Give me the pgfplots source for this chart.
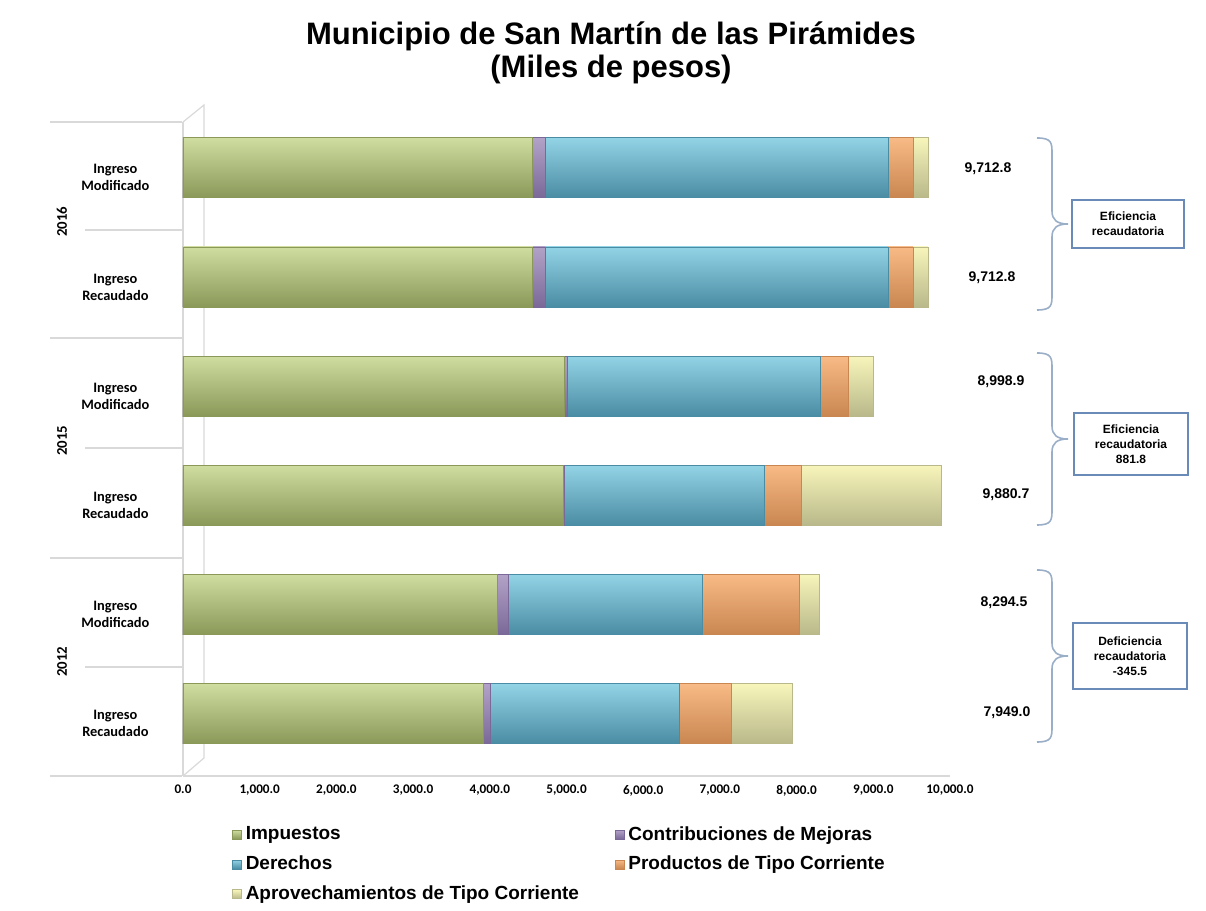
\documentclass[border=0pt]{standalone}
\usepackage{fontspec}
\setmainfont{Liberation Sans}
\newfontfamily\calib{Carlito}
\usepackage{pgfplots}
\usepackage{pgfplotstable}
\pgfplotsset{compat=1.18}

\definecolor{greenL}{HTML}{E6F0BD}\definecolor{greenM}{HTML}{CFDDA0}\definecolor{greenD}{HTML}{8A9858}
\definecolor{purpleL}{HTML}{D2C5E4}\definecolor{purpleM}{HTML}{B3A2C7}\definecolor{purpleD}{HTML}{7A6898}
\definecolor{blueL}{HTML}{B4EAF8}\definecolor{blueM}{HTML}{93D3E6}\definecolor{blueD}{HTML}{4A8CA3}
\definecolor{orangeL}{HTML}{FDD6AE}\definecolor{orangeM}{HTML}{F8BA86}\definecolor{orangeD}{HTML}{C98650}
\definecolor{creamL}{HTML}{FFFFD8}\definecolor{creamM}{HTML}{F7F5BA}\definecolor{creamD}{HTML}{B8B88A}
\definecolor{gridc}{HTML}{D9D9D9}
\definecolor{bracec}{HTML}{9AAEC8}
\definecolor{boxc}{HTML}{6A8AB8}

\pgfplotsset{
  sImp/.style={fill=greenM, top color=greenM, middle color=greenL, bottom color=greenD, draw=greenD, line width=0.3pt},
  sCon/.style={fill=purpleM, top color=purpleM, middle color=purpleL, bottom color=purpleD, draw=purpleD, line width=0.3pt},
  sDer/.style={fill=blueM, top color=blueM, middle color=blueL, bottom color=blueD, draw=blueD, line width=0.3pt},
  sPro/.style={fill=orangeM, top color=orangeM, middle color=orangeL, bottom color=orangeD, draw=orangeD, line width=0.3pt},
  sApr/.style={fill=creamM, top color=creamM, middle color=creamL, bottom color=creamD, draw=creamD, line width=0.3pt},
}

% y: 0 = 2016 Ingreso Modificado (top) ... 5 = 2012 Ingreso Recaudado (bottom)
% imp = Impuestos, con = Contribuciones de Mejoras, der = Derechos,
% pro = Productos de Tipo Corriente, apr = Aprovechamientos de Tipo Corriente
\pgfplotstableread{
y imp con der pro apr
0 4560 165 4465 325 197.8
1 4560 165 4465 325 197.8
2 4975 40 3300 365 318.9
3 4960 15 2610 470 1825.7
4 4100 145 2530 1255 264.5
5 3915 90 2470 670 804
}\datatab

% one category: each segment drawn on its own (own cylinder shading),
% back to front, each reaching the running total of the stack
\newcommand\catbars[2]{%
  \addplot[sApr, bar shift=0pt, forget plot, restrict y to domain=#1:#2]
    table[y=y, x expr=\thisrow{imp}+\thisrow{con}+\thisrow{der}+\thisrow{pro}+\thisrow{apr}]{\datatab};
  \addplot[sPro, bar shift=0pt, forget plot, restrict y to domain=#1:#2]
    table[y=y, x expr=\thisrow{imp}+\thisrow{con}+\thisrow{der}+\thisrow{pro}]{\datatab};
  \addplot[sDer, bar shift=0pt, forget plot, restrict y to domain=#1:#2]
    table[y=y, x expr=\thisrow{imp}+\thisrow{con}+\thisrow{der}]{\datatab};
  \addplot[sCon, bar shift=0pt, forget plot, restrict y to domain=#1:#2]
    table[y=y, x expr=\thisrow{imp}+\thisrow{con}]{\datatab};
  \addplot[sImp, bar shift=0pt, forget plot, restrict y to domain=#1:#2]
    table[y=y, x=imp]{\datatab};
}

\begin{document}
\begin{tikzpicture}
% background: bounding box, separators and back wall (behind the bars)
\begin{scope}[x=0.5pt, y=-0.5pt, yshift=453pt]
  \path[use as bounding box] (0,0) rectangle (1206,906);
  \draw[gridc, line width=0.6pt] (50,122) -- (182,122);
  \draw[gridc, line width=0.6pt] (85,230) -- (182,230);
  \draw[gridc, line width=0.6pt] (50,338) -- (182,338);
  \draw[gridc, line width=0.6pt] (85,448) -- (182,448);
  \draw[gridc, line width=0.6pt] (50,558) -- (182,558);
  \draw[gridc, line width=0.6pt] (85,667) -- (182,667);
  \draw[gridc, line width=0.6pt] (50,776) -- (182,776);
  \draw[gridc, line width=0.6pt] (183,122) -- (204,105) -- (204,758) -- (183,776);
\end{scope}

\begin{axis}[
  at={(91.5pt,65pt)}, anchor=south west,
  scale only axis, width=383.5pt, height=327.05pt,
  xbar, bar width=30pt,
  xmin=0, xmax=10000, ymin=-0.42, ymax=5.57, y dir=reverse,
  enlargelimits=false, clip=false,
  axis x line*=bottom, axis y line*=left,
  axis line style={gridc, line width=0.7pt, -},
  xtick={0,1000,...,10000},
  scaled x ticks=false,
  xticklabel style={font=\calib\bfseries\fontsize{6.6}{7}\selectfont, yshift=-1pt},
  /pgf/number format/.cd, fixed, fixed zerofill, precision=1, 1000 sep={,}, assume math mode=true,
  /pgfplots/.cd,
  ytick={0,1,2,3,4,5},
  yticklabels={{Ingreso\\Modificado},{Ingreso\\Recaudado},{Ingreso\\Modificado},{Ingreso\\Recaudado},{Ingreso\\Modificado},{Ingreso\\Recaudado}},
  yticklabel style={font=\calib\bfseries\fontsize{7.2}{8.5}\selectfont, align=center, text width=40pt, xshift=-6pt, yshift=-5pt},
  xtick style={draw=none}, ytick style={draw=none},
  legend columns=2, legend cell align=left,
  legend style={at={(0.056,-0.064)}, anchor=north west, draw=none, fill=none,
    font=\bfseries\fontsize{9.5}{11}\selectfont, row sep=2.5pt,
    /tikz/every even column/.append style={column sep=16pt}},
  legend image code/.code={\path[#1] (0pt,-2.2pt) rectangle (4.4pt,2.2pt);},
]
\catbars{-0.2}{0.2}
\catbars{0.8}{1.2}
\catbars{1.8}{2.2}
\catbars{2.8}{3.2}
\catbars{3.8}{4.2}
\catbars{4.8}{5.2}
\addlegendimage{sImp}\addlegendentry{Impuestos}
\addlegendimage{sCon}\addlegendentry{Contribuciones de Mejoras}
\addlegendimage{sDer}\addlegendentry{Derechos}
\addlegendimage{sPro}\addlegendentry{Productos de Tipo Corriente}
\addlegendimage{sApr}\addlegendentry{Aprovechamientos de Tipo Corriente}
\end{axis}

\begin{scope}[x=0.5pt, y=-0.5pt, yshift=453pt]
  % title
  \node[font=\bfseries\fontsize{15.5}{17}\selectfont] at (611,36) {Municipio de San Martín de las Pirámides};
  \node[font=\bfseries\fontsize{15.5}{17}\selectfont] at (611,69) {(Miles de pesos)};
  % year labels
  \node[rotate=90, font=\calib\bfseries\fontsize{7.4}{8}\selectfont] at (62,222) {2016};
  \node[rotate=90, font=\calib\bfseries\fontsize{7.4}{8}\selectfont] at (62,441) {2015};
  \node[rotate=90, font=\calib\bfseries\fontsize{7.4}{8}\selectfont] at (62,662) {2012};
  % total labels
  \begin{scope}[every node/.style={font=\bfseries\fontsize{7}{8}\selectfont}]
    \node at (988,169) {9,712.8};
    \node at (992,278) {9,712.8};
    \node at (1001,382) {8,998.9};
    \node at (1006,495) {9,880.7};
    \node at (1004,603) {8,294.5};
    \node at (1007,713) {7,949.0};
  \end{scope}
  % braces
  \foreach \ya/\yb in {138/310, 353/525, 570/742}{
    \pgfmathsetmacro{\ym}{(\ya+\yb)/2}
    \draw[bracec, line width=0.8pt]
      (1037,\ya) .. controls (1052,\ya) and (1052,\ya+5) .. (1052,\ya+16)
      -- (1052,\ym-13) .. controls (1052,\ym-4) and (1057,\ym) .. (1068,\ym)
      .. controls (1057,\ym) and (1052,\ym+4) .. (1052,\ym+13)
      -- (1052,\yb-16) .. controls (1052,\yb-5) and (1052,\yb) .. (1037,\yb);
  }
  % boxes
  \draw[boxc, line width=0.7pt, fill=white] (1072,200) rectangle (1184,248);
  \node[align=center, font=\bfseries\fontsize{6}{7.5}\selectfont] at (1128,224) {Eficiencia\\recaudatoria};
  \draw[boxc, line width=0.7pt, fill=white] (1074,413) rectangle (1188,475);
  \node[align=center, font=\bfseries\fontsize{6}{7.5}\selectfont] at (1131,444) {Eficiencia\\recaudatoria\\881.8};
  \draw[boxc, line width=0.7pt, fill=white] (1073,623) rectangle (1187,689);
  \node[align=center, font=\bfseries\fontsize{6}{7.5}\selectfont] at (1130,656) {Deficiencia\\recaudatoria\\-345.5};
\end{scope}
\end{tikzpicture}
\end{document}
